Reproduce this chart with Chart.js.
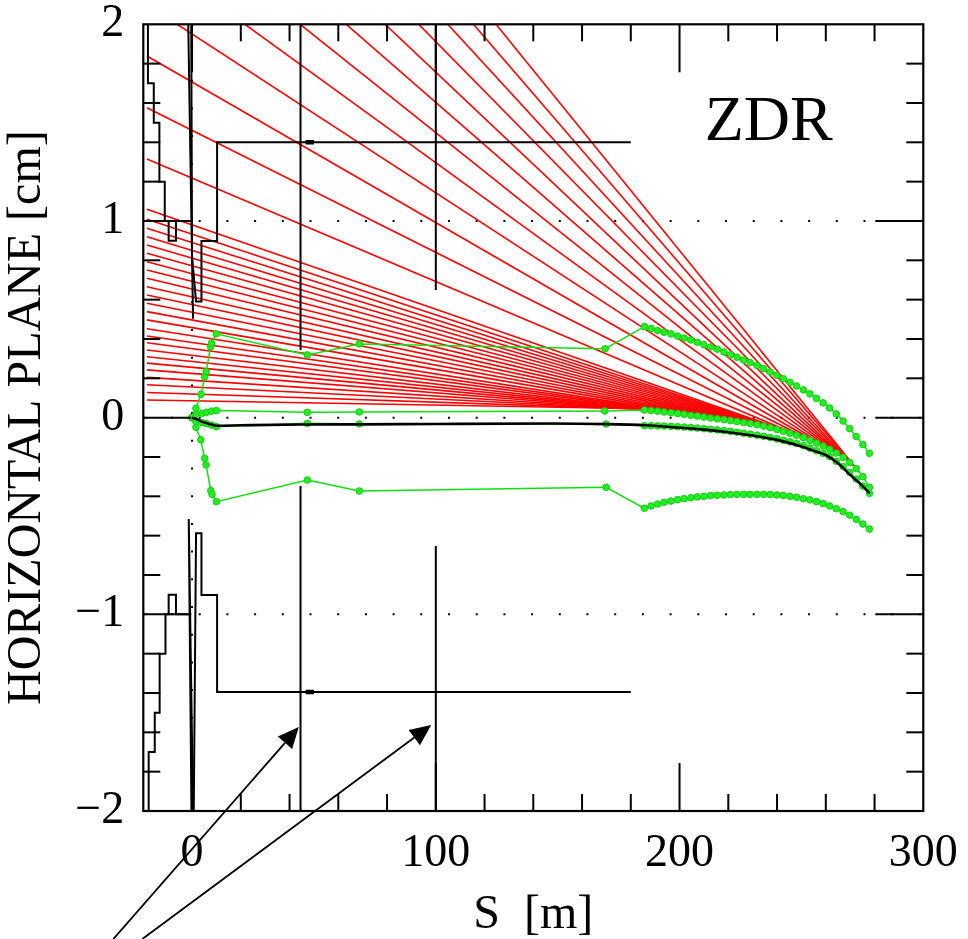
<!DOCTYPE html>
<html><head><meta charset="utf-8">
<script src="https://cdn.jsdelivr.net/npm/chart.js@4.4.1/dist/chart.umd.min.js"></script>
<style>html,body{margin:0;padding:0;background:#fff;}canvas{display:block;}</style>
</head><body>
<canvas id="c" width="968" height="939"></canvas>
<script>
// ---------------- data ----------------
const X_RANGE = [-20, 300];
const Y_RANGE = [-2, 2];
const X_LABEL_TICKS = [0, 100, 200, 300];
const Y_LABEL_TICKS = [-2, -1, 0, 1, 2];
const X_MAJOR_TICKS = [0, 100, 200];
const X_MINOR_TICKS = [20, 40, 60, 80, 120, 140, 160, 180, 220, 240, 260, 280];
const Y_MAJOR_TICKS = [-1, 0, 1];
const Y_MINOR_TICKS = [-1.8, -1.6, -1.4, -1.2, -0.8, -0.6, -0.4, -0.2, 0.2, 0.4, 0.6, 0.8, 1.2, 1.4, 1.6, 1.8];
const GUIDE_Y = [-1, 0, 1];
const GUIDE_X = [0];
const X_TITLE = 'S  [m]';
const Y_TITLE = 'HORIZONTAL PLANE [cm]';
const PANEL_LABEL = 'ZDR';

// dense tracking points in the last element
const S_DENSE = [185.6,188.3,191.0,193.7,196.5,199.2,201.9,204.6,207.3,210.0,212.7,215.5,218.2,220.9,223.6,226.3,229.0,231.8,234.5,237.2,239.9,242.6,245.3,248.0,250.8,253.5,256.2,258.9,261.6,264.3,267.1,269.8,272.5,275.2,277.9];

// green envelope: upper
const UP_S = [0,1.6,3.7,5.2,5.8,7.6,8.0,9.9,47.3,68.6,169.5];
const UP_Y = [0,0.048,0.119,0.208,0.234,0.360,0.378,0.426,0.319,0.375,0.350];
const UP_Y_DENSE = [0.463,0.453,0.443,0.434,0.426,0.415,0.405,0.395,0.383,0.371,0.359,0.348,0.334,0.320,0.307,0.293,0.280,0.265,0.249,0.232,0.215,0.198,0.180,0.161,0.141,0.121,0.098,0.075,0.049,0.019,-0.017,-0.056,-0.096,-0.137,-0.181];
// green: near-zero upper
const NZU_S = [0,1.6,4.1,5.9,8.0,10.0,47.3,68.6,169.3];
const NZU_Y = [0,0.017,0.022,0.027,0.033,0.036,0.027,0.029,0.034];
const NZU_Y_DENSE = [0.039,0.036,0.033,0.029,0.025,0.021,0.017,0.012,0.008,0.003,-0.002,-0.006,-0.010,-0.015,-0.020,-0.025,-0.030,-0.036,-0.043,-0.051,-0.060,-0.069,-0.079,-0.090,-0.102,-0.115,-0.129,-0.144,-0.161,-0.180,-0.202,-0.228,-0.259,-0.300,-0.354];
// green: near-zero lower
const NZL_S = [0,1.6,4.1,5.9,8.0,10.0,47.3,68.6,169.9];
const NZL_Y = [0,-0.020,-0.025,-0.030,-0.038,-0.046,-0.029,-0.032,-0.032];
const NZL_Y_DENSE = [-0.041,-0.041,-0.042,-0.043,-0.044,-0.046,-0.048,-0.050,-0.053,-0.056,-0.059,-0.062,-0.066,-0.070,-0.074,-0.079,-0.084,-0.089,-0.095,-0.101,-0.108,-0.115,-0.123,-0.131,-0.142,-0.155,-0.168,-0.182,-0.198,-0.222,-0.248,-0.278,-0.312,-0.348,-0.385];
// green envelope: lower
const LOW_S = [0,1.6,3.6,5.2,5.75,7.7,8.2,10.0,47.3,68.6,169.9];
const LOW_Y = [0,-0.049,-0.113,-0.207,-0.240,-0.371,-0.390,-0.427,-0.317,-0.373,-0.354];
const LOW_Y_DENSE = [-0.461,-0.449,-0.439,-0.430,-0.424,-0.417,-0.412,-0.407,-0.403,-0.400,-0.396,-0.395,-0.393,-0.391,-0.390,-0.390,-0.390,-0.390,-0.390,-0.391,-0.393,-0.396,-0.400,-0.405,-0.412,-0.418,-0.427,-0.437,-0.449,-0.463,-0.478,-0.496,-0.517,-0.541,-0.566];

// black central orbit
const ORBIT_S = [0,2,4,6,8,10,20,45,70,100,147,170,186,200,210,220,230,240,250,255,260,265,270,275,278];
const ORBIT_Y = [0,-0.008,-0.020,-0.028,-0.035,-0.041,-0.039,-0.035,-0.034,-0.032,-0.030,-0.033,-0.039,-0.051,-0.061,-0.074,-0.091,-0.113,-0.147,-0.168,-0.190,-0.232,-0.291,-0.347,-0.385];

// red rays: start at left, end on the orbit in the last element
const RAY_START_S = -18.5;
const RAY_START_Y = [0.090,0.128,0.167,0.205,0.243,0.277,0.310,0.344,0.381,0.415,0.452,0.497,0.539,0.582,0.624,0.666,0.709,0.751,0.793,0.836,0.878,0.920,0.963,1.009,1.060,1.315,1.576,1.839,2.100,2.361,2.622,2.883,3.144,3.405,3.666,3.927,4.188];
const RAY_END_S = [185.6,188.3,191.0,193.7,196.5,199.2,201.9,204.6,207.3,210.0,212.7,215.5,218.2,220.9,223.6,226.3,229.0,231.8,234.5,237.2,239.9,242.6,245.3,248.0,250.8,253.5,256.2,258.9,261.6,264.3,265.7,267.1,268.4,269.8,271.1,272.5,273.8];
const RAY_END_Y = [0.045,0.042,0.039,0.035,0.031,0.027,0.023,0.018,0.014,0.009,0.004,0.000,-0.004,-0.009,-0.014,-0.019,-0.024,-0.030,-0.037,-0.045,-0.054,-0.063,-0.073,-0.084,-0.096,-0.115,-0.129,-0.144,-0.161,-0.180,-0.191,-0.202,-0.215,-0.228,-0.243,-0.259,-0.278];

// black aperture outlines
const APERTURES = [
  { s: [-18.1,-18.1,-15.7,-15.7,-13.4,-13.4,-11.2,-11.2,-9.6,-9.6,-6.6,-6.6,-1.0], y: [2,1.70,1.70,1.50,1.50,1.20,1.20,1.00,1.00,0.90,0.90,1.00,1.00] },
  { s: [-17.8,-17.8,-15.3,-15.3,-13.3,-13.3,-10.9,-10.9,-9.6,-9.6,-6.6,-6.6,-1.0], y: [-2,-1.70,-1.70,-1.50,-1.50,-1.20,-1.20,-1.00,-1.00,-0.90,-0.90,-1.00,-1.00] },
  { s: [-1.56,0.41], y: [2,0.503] },
  { s: [-0.33,0.0,1.64,3.86,3.86,10.27,10.27,180], y: [2,0.819,0.590,0.590,0.898,0.898,1.400,1.400] },
  { s: [-0.25,-1.36,0.41], y: [-2,-0.515,-2] },
  { s: [0.70,1.64,3.86,3.86,10.27,10.27,180], y: [-2,-0.588,-0.588,-0.902,-0.902,-1.395,-1.395] },
  { s: [44.5,44.5], y: [2,0.344] },
  { s: [44.5,44.5], y: [-0.347,-2] },
  { s: [100,100], y: [2,0.649] },
  { s: [100,100], y: [-0.652,-2] }
];
const APERTURE_MARKS = [
  { s: [46.6,50.0], y: [1.4,1.4] },
  { s: [46.6,50.0], y: [-1.395,-1.395] }
];

// arrows below the plot (data coordinates)
const ARROW_TAILS = [[-32.3,-2.651],[-20.4,-2.651]];
const ARROW_TIPS = [[43.8,-1.573],[98.1,-1.563]];

// ---------------- chart ----------------
const pts = (xs, ys) => xs.map((x, i) => ({ x, y: ys[i] }));
const datasets = [];

GUIDE_Y.forEach(v => datasets.push({
  data: [{ x: X_RANGE[0], y: v }, { x: X_RANGE[1], y: v }],
  showLine: true, borderColor: '#000', borderWidth: 2, borderDash: [2, 25.7],
  pointRadius: 0, order: 20
}));
GUIDE_X.forEach(v => datasets.push({
  data: [{ x: v, y: Y_RANGE[1] }, { x: v, y: Y_RANGE[0] }],
  showLine: true, borderColor: '#000', borderWidth: 2, borderDash: [2, 25.7],
  pointRadius: 0, order: 20
}));

RAY_START_Y.forEach((y0, i) => datasets.push({
  data: [{ x: RAY_START_S, y: y0 }, { x: RAY_END_S[i], y: RAY_END_Y[i] }],
  showLine: true, borderColor: '#ff0000', borderWidth: 1.6, pointRadius: 0, order: 10
}));

const greenStyle = {
  showLine: true, borderColor: '#10e010', borderWidth: 1.5,
  pointRadius: 3.3, pointBackgroundColor: '#22ee22', pointBorderColor: '#10d010',
  pointBorderWidth: 1, order: 5
};
[[UP_S, UP_Y, UP_Y_DENSE], [NZU_S, NZU_Y, NZU_Y_DENSE], [NZL_S, NZL_Y, NZL_Y_DENSE], [LOW_S, LOW_Y, LOW_Y_DENSE]]
  .forEach(([s, y, yd]) => datasets.push(Object.assign({
    data: pts([...s, ...S_DENSE], [...y, ...yd])
  }, greenStyle)));

datasets.push({
  data: pts(ORBIT_S, ORBIT_Y), showLine: true, borderColor: '#000', borderWidth: 2.6,
  pointRadius: 0, order: 3, cubicInterpolationMode: 'monotone'
});

APERTURES.forEach(a => datasets.push({
  data: pts(a.s, a.y), showLine: true, borderColor: '#000', borderWidth: 2,
  pointRadius: 0, order: 2
}));
APERTURE_MARKS.forEach(a => datasets.push({
  data: pts(a.s, a.y), showLine: true, borderColor: '#000', borderWidth: 4.5,
  pointRadius: 0, order: 2
}));

const FONT = 'Liberation Serif';
const MAJOR_LEN = 48, MINOR_LEN = 17;

const framePlugin = {
  id: 'frameTicks',
  afterDraw(chart) {
    const { ctx, chartArea: { left, right, top, bottom }, scales: { x, y } } = chart;
    ctx.save();
    ctx.strokeStyle = '#000';
    ctx.lineWidth = 2;
    ctx.lineCap = 'butt';
    const seg = (x1, y1, x2, y2) => { ctx.beginPath(); ctx.moveTo(x1, y1); ctx.lineTo(x2, y2); ctx.stroke(); };
    X_MAJOR_TICKS.forEach(v => { const p = x.getPixelForValue(v); seg(p, bottom, p, bottom - MAJOR_LEN); seg(p, top, p, top + MAJOR_LEN); });
    X_MINOR_TICKS.forEach(v => { const p = x.getPixelForValue(v); seg(p, bottom, p, bottom - MINOR_LEN); seg(p, top, p, top + MINOR_LEN); });
    Y_MAJOR_TICKS.forEach(v => { const p = y.getPixelForValue(v); seg(left, p, left + MAJOR_LEN, p); seg(right, p, right - MAJOR_LEN, p); });
    Y_MINOR_TICKS.forEach(v => { const p = y.getPixelForValue(v); seg(left, p, left + MINOR_LEN, p); seg(right, p, right - MINOR_LEN, p); });
    ctx.lineWidth = 2.2;
    ctx.strokeRect(left, top, right - left, bottom - top);

    // arrows
    ctx.lineWidth = 1.8;
    ctx.fillStyle = '#000';
    ARROW_TAILS.forEach((t, i) => {
      const x0 = x.getPixelForValue(t[0]), y0 = y.getPixelForValue(t[1]);
      const x1 = x.getPixelForValue(ARROW_TIPS[i][0]), y1 = y.getPixelForValue(ARROW_TIPS[i][1]);
      const ang = Math.atan2(y1 - y0, x1 - x0);
      const L = 21, W = 9.5;
      const bx = x1 - L * Math.cos(ang), by = y1 - L * Math.sin(ang);
      seg(x0, y0, bx, by);
      ctx.beginPath();
      ctx.moveTo(x1, y1);
      ctx.lineTo(bx + W * Math.sin(ang), by - W * Math.cos(ang));
      ctx.lineTo(bx - W * Math.sin(ang), by + W * Math.cos(ang));
      ctx.closePath();
      ctx.fill();
    });

    // panel label
    ctx.font = '64px "' + FONT + '"';
    ctx.textAlign = 'center';
    ctx.textBaseline = 'alphabetic';
    ctx.fillText(PANEL_LABEL, x.getPixelForValue(236.6), y.getPixelForValue(1.412));
    ctx.restore();
  }
};

const fmt = v => (v < 0 ? '\u2212' + Math.abs(v) : String(v));

new Chart(document.getElementById('c').getContext('2d'), {
  type: 'scatter',
  data: { datasets },
  options: {
    responsive: false,
    animation: false,
    devicePixelRatio: 1,
    layout: { padding: { left: 0, right: 44.7, top: 24.3, bottom: 0 } },
    plugins: { legend: { display: false }, tooltip: { enabled: false } },
    elements: { line: { tension: 0, borderCapStyle: 'butt' } },
    scales: {
      x: {
        type: 'linear', min: X_RANGE[0], max: X_RANGE[1],
        afterBuildTicks: s => { s.ticks = X_LABEL_TICKS.map(v => ({ value: v })); },
        afterFit: s => { s.height = 128; },
        grid: { display: false, drawTicks: false },
        border: { display: false },
        ticks: { color: '#000', padding: 8, maxRotation: 0, autoSkip: false,
                 font: { family: FONT, size: 46, lineHeight: 1.52 }, callback: v => fmt(v) },
        title: { display: true, text: X_TITLE, color: '#000',
                 font: { family: FONT, size: 48, lineHeight: 1 }, padding: { top: 0, bottom: 0 } }
      },
      y: {
        type: 'linear', min: Y_RANGE[0], max: Y_RANGE[1],
        afterBuildTicks: s => { s.ticks = Y_LABEL_TICKS.map(v => ({ value: v })); },
        afterFit: s => { s.width = 143.3; },
        grid: { display: false, drawTicks: false },
        border: { display: false },
        ticks: { color: '#000', padding: 19, autoSkip: false,
                 font: { family: FONT, size: 46, lineHeight: 0.2 }, callback: v => fmt(v) },
        title: { display: true, text: Y_TITLE, color: '#000',
                 font: { family: FONT, size: 48, lineHeight: 1 }, padding: { top: 3, bottom: 0 } }
      }
    }
  },
  plugins: [framePlugin]
});
</script>
</body></html>
